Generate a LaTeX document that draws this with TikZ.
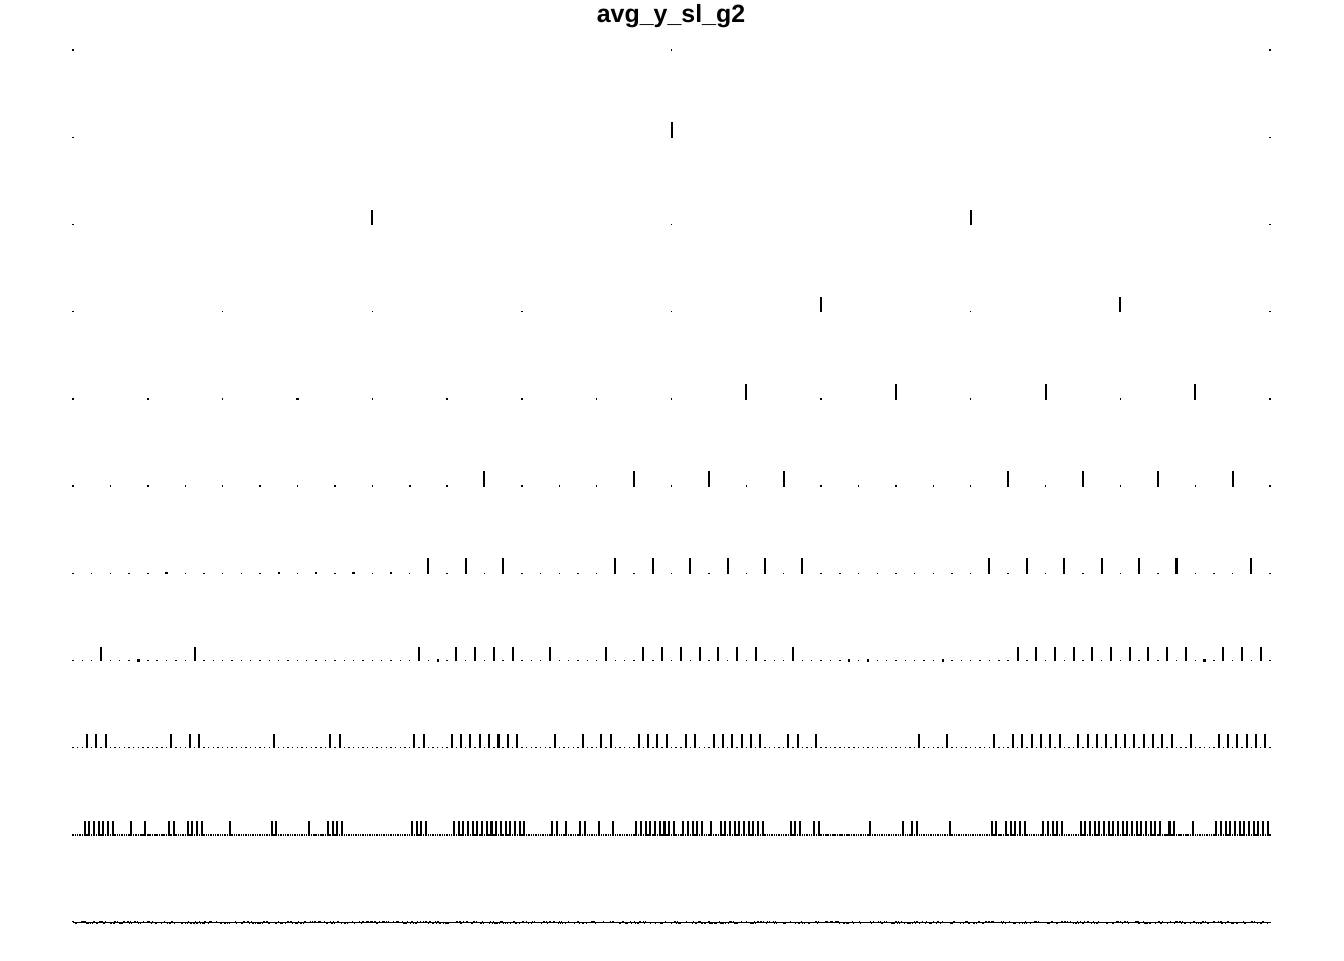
\documentclass[tikz,border=0pt]{standalone}
\usepackage{fontspec}
\setmainfont{Liberation Sans}
\usetikzlibrary{calc}

\begin{document}
\begin{tikzpicture}[x=0.02cm, y=-0.02cm, bar/.style={black, line width=1.15pt}]
\useasboundingbox (0,0) rectangle (1344,960);
\node[anchor=base, font=\fontsize{14.2}{17}\selectfont\bfseries] (title) at (671,22) {avg\_y\_sl\_g2};

\foreach \r/\n in {0/2,1/2,2/4,3/8,4/16,5/32,6/64,7/128,8/256,9/512} \foreach \i in {0,...,\n} \fill ({73+\i/\n*1197-.7},{50+87.2*\r-.7}) rectangle ++(1.4,1.4);

\foreach \r/\n/\i in {4/16/3,5/32/5,5/32/7,5/32/9,6/64/5,6/64/11,6/64/13,6/64/15,6/64/17,7/128/7,7/128/39,7/128/83,7/128/85,7/128/93,7/128/121} \fill ({73+\i/\n*1197-1.1},{50+87.2*\r-1.1}) rectangle ++(2.2,2.2);

\foreach \i in {1} \draw[bar] ({73+\i/2*1197},{137.2+.7}) --++(0,-15.5);
\foreach \i in {1,3} \draw[bar] ({73+\i/4*1197},{224.4+.7}) --++(0,-15.5);
\foreach \i in {5,7} \draw[bar] ({73+\i/8*1197},{311.6+.7}) --++(0,-15.5);
\foreach \i in {9,11,13,15} \draw[bar] ({73+\i/16*1197},{398.8+.7}) --++(0,-15.5);
\foreach \i in {11,15,17,19,25,27,29,31} \draw[bar] ({73+\i/32*1197},{486+.7}) --++(0,-15.5);
\foreach \i in {19,21,23,29,31,...,39,49,51,...,59,63} \draw[bar] ({73+\i/64*1197},{573.2+.7}) --++(0,-15.5);
\foreach \i in {3,13,37,41,43,45,47,51,57,61,63,...,73,77,101,103,...,119,123,125,127} \draw[bar] ({73+\i/128*1197},{660.4+.7}) --++(0,-14.5);
\foreach \i in {3,5,7,21,25,27,43,55,57,73,75,81,83,...,95,103,109,113,115,121,123,125,127,131,133,137,139,...,147,153,155,159,181,187,197,201,203,...,211,215,217,...,235,239,245,247,...,255} \draw[bar] ({73+\i/256*1197},{747.6+.7}) --++(0,-14.5);
\foreach \i in {5,7,...,17,25,31,41,43,49,51,53,55,67,85,87,101,109,111,113,115,145,147,149,151,163,165,...,193,205,207,211,217,219,225,231,241,243,...,257,261,263,...,269,273,277,279,...,295,307,309,311,317,319,341,355,359,361,375,393,395,399,401,...,407,415,417,...,423,431,433,...,465,469,471,479,489,491,...,511} \draw[bar] ({73+\i/512*1197},{834.8+.7}) --++(0,-14.5);

\pgfmathsetseed{7}
\draw[line width=.5pt] (73,922.5) -- (1270,922.5);
\foreach \i in {0,...,1024} \fill ({73+\i/1024*1197-.6},{922+round(2*rnd-1)}) rectangle ++(1.2,1);
\end{tikzpicture}
\end{document}
